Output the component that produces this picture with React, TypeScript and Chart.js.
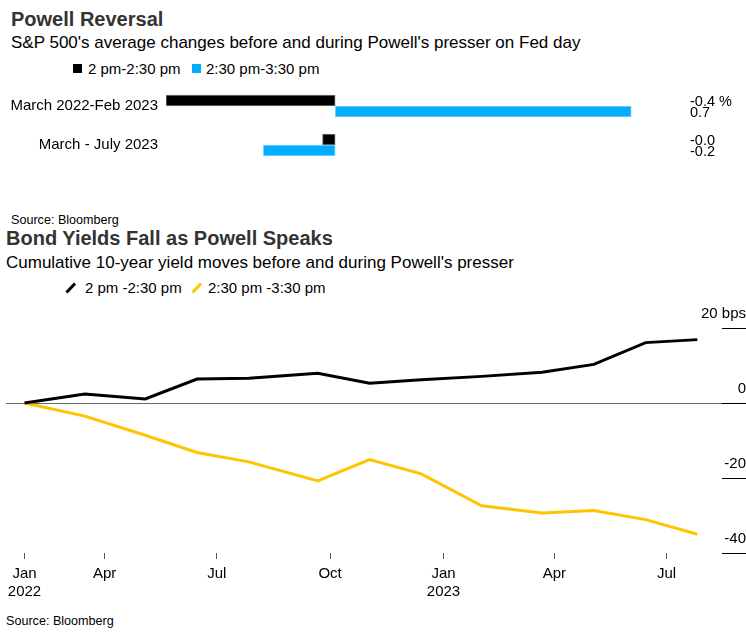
import React, { useEffect, useRef } from "react";
import { Chart, registerables } from "chart.js";

Chart.register(...registerables);

const FONT = "'Liberation Sans', Arial, Helvetica, sans-serif";

// ---------- Top chart data ----------
const periods = ["March 2022-Feb 2023", "March - July 2023"];
const barBeforeLabel = "2 pm-2:30 pm";
const barDuringLabel = "2:30 pm-3:30 pm";
const spxBefore = [-0.4, -0.03];
const spxDuring = [0.7, -0.17];
const barUnit = "%";

// ---------- Bottom chart data ----------
const lineBeforeLabel = "2 pm -2:30 pm";
const lineDuringLabel = "2:30 pm -3:30 pm";
const meetingDates = [
  "2022-01-26", "2022-03-16", "2022-05-04", "2022-06-15", "2022-07-27",
  "2022-09-21", "2022-11-02", "2022-12-14", "2023-02-01", "2023-03-22",
  "2023-05-03", "2023-06-14", "2023-07-26",
];
const yieldBefore = [0, 2.4, 1.1, 6.4, 6.6, 7.9, 5.3, 6.2, 7.1, 8.2, 10.3, 16.1, 16.9];
const yieldDuring = [0, -3.5, -8.6, -13.2, -15.7, -20.8, -15.1, -18.9, -27.4, -29.3, -28.7, -31.1, -35.0];
const xTickDates = ["2022-01-26", "2022-04-01", "2022-07-01", "2022-10-01", "2023-01-01", "2023-04-01", "2023-07-01"];
const xTickLabels: (string | string[])[] = [["Jan", "2022"], "Apr", "Jul", "Oct", ["Jan", "2023"], "Apr", "Jul"];
const yTickValues = [20, 0, -20, -40];
const yUnit = "bps";
const xRangeStart = "2022-01-11";
const xRangeEnd = "2023-08-15";

const DAY0 = Date.parse("2022-01-01T00:00:00Z");
const dayOf = (iso: string) => (Date.parse(iso + "T00:00:00Z") - DAY0) / 86400000;

const noPad = (s: any) => {
  s.paddingTop = 0;
  s.paddingBottom = 0;
};

function BarChart() {
  const ref = useRef<HTMLCanvasElement>(null);
  useEffect(() => {
    const rightLabels = periods.map((_, i) => [
      spxBefore[i].toFixed(1) + (i === 0 ? " " + barUnit : ""),
      spxDuring[i].toFixed(1),
    ]);
    const chart = new Chart(ref.current!, {
      type: "bar",
      data: {
        labels: periods,
        datasets: [
          {
            label: barBeforeLabel,
            data: spxBefore,
            backgroundColor: "#000000",
            borderColor: "#7a7a7a",
            borderWidth: 1,
            borderSkipped: false,
            barThickness: 11,
          },
          {
            label: barDuringLabel,
            data: spxDuring,
            backgroundColor: "#00adff",
            borderColor: "#80d6ff",
            borderWidth: 1,
            borderSkipped: false,
            barThickness: 11,
          },
        ],
      },
      options: {
        indexAxis: "y",
        animation: false,
        responsive: false,
        maintainAspectRatio: false,
        layout: { padding: { top: 6.5, bottom: 10.5, left: 0, right: 0 } },
        plugins: { legend: { display: false }, tooltip: { enabled: false } },
        scales: {
          x: { type: "linear", display: false, min: -0.4, max: 0.82 },
          y: {
            position: "left",
            grid: { display: false, drawTicks: false },
            border: { display: false },
            ticks: { padding: 8, color: "#000", font: { family: FONT, size: 15 } },
            afterFit: (s: any) => { s.width = 166; noPad(s); },
          },
          y2: {
            type: "category",
            position: "right",
            labels: rightLabels as any,
            offset: true,
            grid: { display: false, drawTicks: false },
            border: { display: false },
            ticks: { padding: 8, labelOffset: 1.5, color: "#000", font: { family: FONT, size: 14.5, lineHeight: 0.75 } },
            afterFit: (s: any) => { s.width = 64; noPad(s); },
          },
        },
      } as any,
    });
    return () => chart.destroy();
  }, []);
  return (
    <canvas
      ref={ref}
      width={746}
      height={95}
      style={{ position: "absolute", left: 0, top: 80, display: "block" }}
    />
  );
}

function LineChart() {
  const ref = useRef<HTMLCanvasElement>(null);
  useEffect(() => {
    const days = meetingDates.map(dayOf);
    const tickDays = xTickDates.map(dayOf);
    const yMax = Math.max(...yTickValues);
    const yMin = Math.min(...yTickValues);
    const chart = new Chart(ref.current!, {
      type: "line",
      data: {
        datasets: [
          {
            label: lineBeforeLabel,
            data: days.map((d, i) => ({ x: d, y: yieldBefore[i] })),
            borderColor: "#000000",
            borderWidth: 3,
            pointRadius: 0,
            tension: 0,
            fill: false,
          },
          {
            label: lineDuringLabel,
            data: days.map((d, i) => ({ x: d, y: yieldDuring[i] })),
            borderColor: "#ffc400",
            borderWidth: 3,
            pointRadius: 0,
            tension: 0,
            fill: false,
          },
        ],
      },
      options: {
        animation: false,
        responsive: false,
        maintainAspectRatio: false,
        layout: { padding: { left: 6, top: 30, right: 0, bottom: 0 } },
        plugins: { legend: { display: false }, tooltip: { enabled: false } },
        scales: {
          x: {
            type: "linear",
            min: dayOf(xRangeStart),
            max: dayOf(xRangeEnd),
            afterBuildTicks: (s: any) => { s.ticks = tickDays.map((v) => ({ value: v })); },
            ticks: {
              callback: (_v: any, i: number) => xTickLabels[i],
              autoSkip: false,
              maxRotation: 0,
              padding: 5,
              color: "#000",
              font: { family: FONT, size: 15, lineHeight: 1.25 },
            },
            grid: { drawOnChartArea: false, tickLength: 6, tickColor: "#555", lineWidth: 1 },
            border: { display: false },
            afterFit: (s: any) => { s.height = 50; },
          },
          y: {
            position: "right",
            min: yMin,
            max: yMax,
            afterBuildTicks: (s: any) => { s.ticks = yTickValues.map((v) => ({ value: v })); },
            ticks: {
              callback: (v: any) => (v === yMax ? `${v} ${yUnit}` : `${v}`),
              mirror: true,
              crossAlign: "near",
              labelOffset: -14,
              padding: 24,
              color: "#000",
              font: { family: FONT, size: 15 },
            },
            grid: {
              color: (c: any) => (c.tick && c.tick.value === 0 ? "#666666" : "rgba(0,0,0,0)"),
              tickColor: "#000",
              tickLength: 24,
              lineWidth: 1,
            },
            border: { display: false },
            afterFit: (s: any) => { s.width = 24; },
          },
        },
      } as any,
    });
    return () => chart.destroy();
  }, []);
  return (
    <canvas
      ref={ref}
      width={746}
      height={308}
      style={{ position: "absolute", left: 0, top: 295, display: "block" }}
    />
  );
}

const txt = (left: number, top: number, size: number, extra: React.CSSProperties = {}): React.CSSProperties => ({
  position: "absolute",
  left,
  top,
  fontSize: size,
  lineHeight: `${size}px`,
  whiteSpace: "nowrap",
  ...extra,
});

function LineIcon({ color, left, top }: { color: string; left: number; top: number }) {
  return (
    <svg width={12} height={12} style={{ position: "absolute", left, top }}>
      <line x1={1.5} y1={10.5} x2={10} y2={1.5} stroke={color} strokeWidth={3} />
    </svg>
  );
}

export default function App() {
  return (
    <div
      style={{
        position: "absolute",
        left: 0,
        top: 0,
        width: 746,
        height: 635,
        background: "#fff",
        color: "#000",
        fontFamily: FONT,
        overflow: "hidden",
      }}
    >
      <div style={txt(11, 9.1, 20, { fontWeight: "bold", color: "#333" })}>Powell Reversal</div>
      <div style={txt(11, 33.9, 17)}>S&amp;P 500's average changes before and during Powell's presser on Fed day</div>
      <div style={{ position: "absolute", left: 73, top: 64, width: 9, height: 9, background: "#000" }} />
      <div style={txt(88, 60.6, 15)}>{barBeforeLabel}</div>
      <div style={{ position: "absolute", left: 192, top: 64, width: 9, height: 9, background: "#00adff" }} />
      <div style={txt(206, 60.6, 15)}>{barDuringLabel}</div>
      <BarChart />
      <div style={txt(11, 214.3, 12.6)}>Source: Bloomberg</div>

      <div style={txt(6, 228, 20, { fontWeight: "bold", color: "#333" })}>Bond Yields Fall as Powell Speaks</div>
      <div style={txt(6, 253.9, 17)}>Cumulative 10-year yield moves before and during Powell's presser</div>
      <LineIcon color="#000" left={65} top={282} />
      <div style={txt(85, 279.8, 15)}>{lineBeforeLabel}</div>
      <LineIcon color="#ffc400" left={191} top={282} />
      <div style={txt(208, 279.8, 15)}>{lineDuringLabel}</div>
      <LineChart />
      <div style={txt(6, 615.3, 12.6)}>Source: Bloomberg</div>
    </div>
  );
}
